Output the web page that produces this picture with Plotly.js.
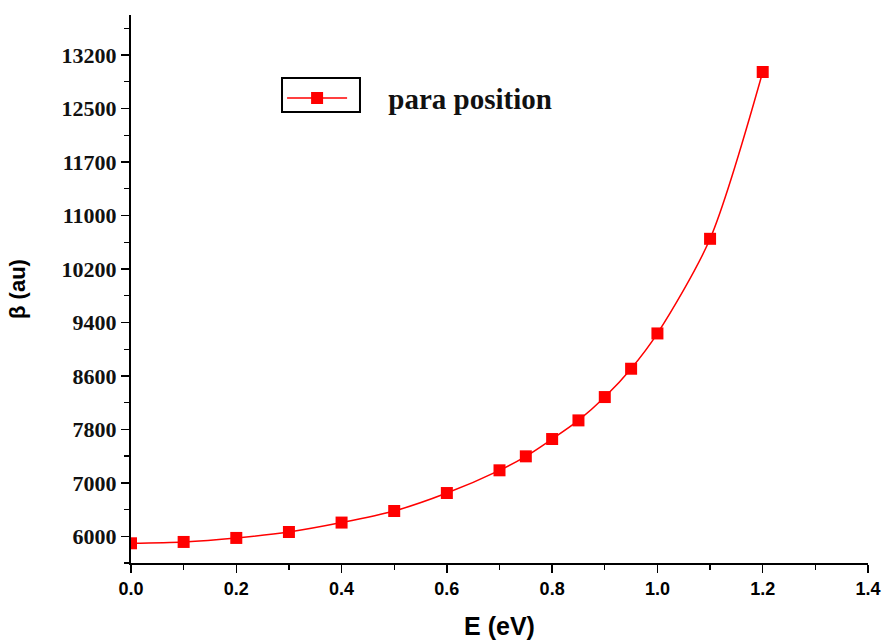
<!DOCTYPE html>
<html>
<head>
<meta charset="utf-8">
<script src="https://cdn.plot.ly/plotly-3.0.1.min.js"></script>
<style>html,body{margin:0;padding:0;background:#fff;}#chart{width:882px;height:641px;}</style>
</head>
<body>
<div id="chart"></div>
<script>
// Photon energy (eV)
const energy = [0.0, 0.1, 0.2, 0.3, 0.4, 0.5, 0.6, 0.7, 0.75, 0.8, 0.85, 0.9, 0.95, 1.0, 1.1, 1.2];
// beta (a.u.), para position
const betaPara = [5895, 5915, 5975, 6064, 6205, 6378, 6647, 6987, 7196, 7455, 7734, 8083, 8507, 9035, 10451, 12947];
// y tick positions and labels as printed on the figure
const yTickVals = [6000, 6800, 7600, 8400, 9200, 10000, 10800, 11600, 12400, 13200];
const yTickText = ["6000", "7000", "7800", "8600", "9400", "10200", "11000", "11700", "12500", "13200"];
const xTickVals = [0.0, 0.2, 0.4, 0.6, 0.8, 1.0, 1.2, 1.4];
const xTickText = ["0.0", "0.2", "0.4", "0.6", "0.8", "1.0", "1.2", "1.4"];
const seriesName = "para position";

const legendGap = '\u00a0\u00a0\u00a0\u00a0\u00a0';

const trace = {
  x: energy,
  y: betaPara,
  name: legendGap + seriesName,
  type: 'scatter',
  mode: 'lines+markers',
  line: {color: '#ff0000', width: 1.5, shape: 'spline', smoothing: 0.8},
  marker: {symbol: 'square', size: 12, color: '#ff0000'}
};

const layout = {
  width: 882, height: 641,
  margin: {l: 131, r: 14, t: 15, b: 78},
  paper_bgcolor: '#ffffff', plot_bgcolor: '#ffffff',
  showlegend: true,
  legend: {
    x: 0.205, y: 0.895, xanchor: 'left', yanchor: 'top',
    bgcolor: 'rgba(0,0,0,0)', borderwidth: 0,
    itemwidth: 60,
    font: {family: 'Liberation Serif', size: 29, color: '#111', weight: 'bold'}
  },
  xaxis: {
    range: [0, 1.4],
    tickmode: 'array', tickvals: xTickVals, ticktext: xTickText,
    ticks: 'outside', ticklen: 8, tickwidth: 1.5, tickcolor: '#000',
    minor: {tickmode: 'linear', tick0: 0, dtick: 0.1, ticks: 'outside', ticklen: 5, tickwidth: 1.2, tickcolor: '#000'},
    showline: true, linecolor: '#000', linewidth: 2,
    showgrid: false, zeroline: false,
    tickfont: {family: 'Liberation Sans', size: 18, color: '#000', weight: 'bold'},
    title: {text: 'E (eV)', font: {family: 'Liberation Sans', size: 25, color: '#000', weight: 'bold'}, standoff: 20}
  },
  yaxis: {
    range: [5600, 13800],
    tickmode: 'array', tickvals: yTickVals, ticktext: yTickText,
    ticks: 'outside', ticklen: 8, tickwidth: 1.5, tickcolor: '#000',
    minor: {tickmode: 'linear', tick0: 6000, dtick: 400, ticks: 'outside', ticklen: 5, tickwidth: 1.2, tickcolor: '#000'},
    showline: true, linecolor: '#000', linewidth: 2,
    showgrid: false, zeroline: false,
    tickfont: {family: 'Liberation Serif', size: 22, color: '#111', weight: 'bold'},
    title: {text: 'β (au)', font: {family: 'Liberation Sans', size: 22, color: '#000', weight: 'bold'}, standoff: 30}
  },
  shapes: [{
    type: 'rect', xref: 'paper', yref: 'paper',
    x0: 0.2049, x1: 0.3107, y0: 0.823, y1: 0.885,
    line: {color: '#000', width: 2}
  }]
};

Plotly.newPlot('chart', [trace], layout, {displayModeBar: false, staticPlot: true});
</script>
</body>
</html>
